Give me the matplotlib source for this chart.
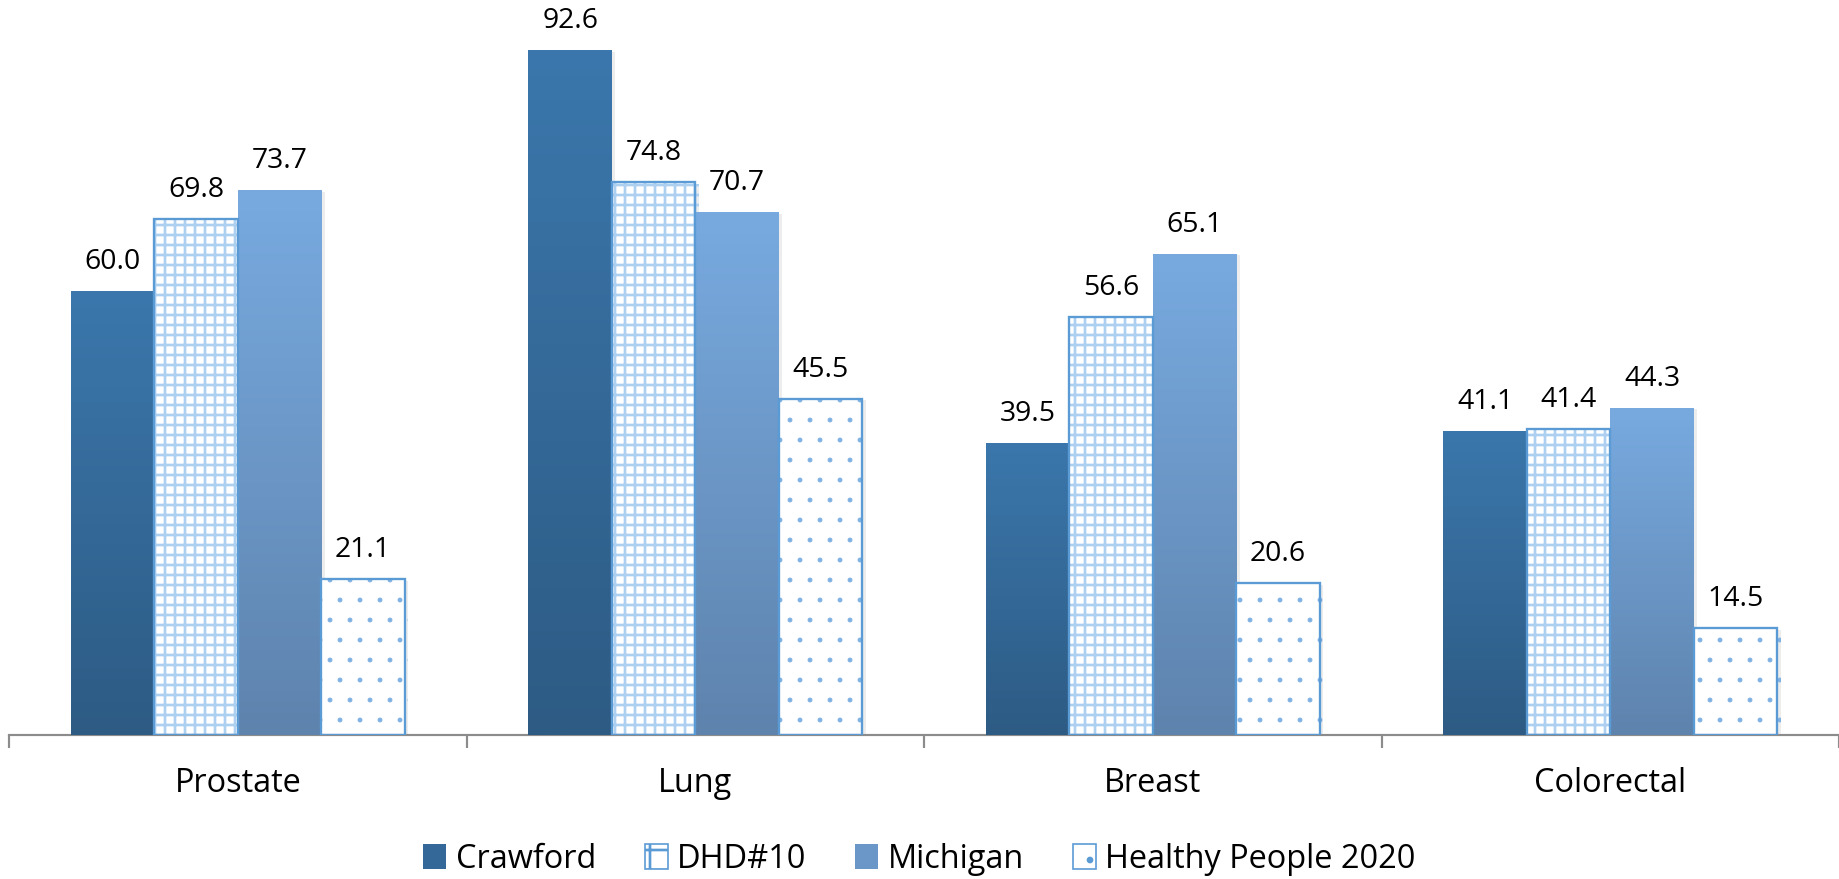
import numpy as np
import matplotlib
matplotlib.use("Agg")
import matplotlib.pyplot as plt
import matplotlib.patheffects as pe
from matplotlib.colors import LinearSegmentedColormap
from matplotlib.patches import Patch

plt.rcParams["font.family"] = ["Open Sans", "DejaVu Sans"]
plt.rcParams["hatch.linewidth"] = 1.6

categories = ["Prostate", "Lung", "Breast", "Colorectal"]
series = ["Crawford", "DHD#10", "Michigan", "Healthy People 2020"]
crawford = [60.0, 92.6, 39.5, 41.1]
dhd10 = [69.8, 74.8, 56.6, 41.4]
michigan = [73.7, 70.7, 65.1, 44.3]
healthy_people = [21.1, 45.5, 20.6, 14.5]

values = [crawford, dhd10, michigan, healthy_people]
EDGE = "#5b9bd5"
GRID = "#add0f0"
DOT = "#7fb2e3"
grad = {0: ("#2d5b84", "#3b77ac"), 2: ("#5e83ad", "#78aae0")}


def set_hlw(patch, lw):
    if hasattr(patch, "set_hatch_linewidth"):
        patch.set_hatch_linewidth(lw)


fig = plt.figure(figsize=(1839 / 120, 879 / 120), dpi=120)
ax = fig.add_axes([0.005, 0.1635, 0.995, 0.8365])

x = np.arange(len(categories))
w = 0.1825
offsets = [-1.5 * w, -0.5 * w, 0.5 * w, 1.5 * w]
shadow = [pe.SimplePatchShadow(offset=(2, -1), shadow_rgbFace="k", alpha=0.07), pe.Normal()]

for i, (vals, off) in enumerate(zip(values, offsets)):
    if i in grad:
        bars = ax.bar(x + off, vals, w, color=grad[i][1], linewidth=0, zorder=2)
        cmap = LinearSegmentedColormap.from_list("g%d" % i, list(grad[i]))
        for b in bars:
            b.set_path_effects(shadow)
            x0, h = b.get_x(), b.get_height()
            im = ax.imshow(np.linspace(0, 1, 256).reshape(-1, 1)[::-1], cmap=cmap,
                           extent=[x0, x0 + w, 0, h], aspect="auto", zorder=3)
            im.set_clip_path(b)
    else:
        hatch = "++" if i == 1 else "."
        hc = GRID if i == 1 else DOT
        with plt.rc_context({"hatch.linewidth": 1.6 if i == 1 else 0.5}):
            bars = ax.bar(x + off, vals, w, color="white", edgecolor=hc, hatch=hatch,
                          linewidth=0, zorder=2)
        for b in bars:
            b.set_path_effects(shadow)
            set_hlw(b, 1.6 if i == 1 else 0.5)
        ax.bar(x + off, vals, w, fill=False, edgecolor=EDGE, linewidth=1.4, zorder=4)
    for xi, v in zip(x + off, vals):
        ax.annotate(f"{v:.1f}", (xi, v), xytext=(0, 9), textcoords="offset points",
                    ha="center", va="bottom", fontsize=17, zorder=5)

ax.set_xlim(-0.5, len(categories) - 0.5)
ax.set_ylim(0, 99.4)
for s in ["top", "right", "left"]:
    ax.spines[s].set_visible(False)
ax.spines["bottom"].set_color("#8c8c8c")
ax.spines["bottom"].set_linewidth(1.3)
ax.set_yticks([])
ax.set_xticks(np.arange(len(categories) + 1) - 0.5)
ax.set_xticklabels([])
ax.tick_params(axis="x", which="major", length=7.5, width=1.3, color="#8c8c8c")
ax.set_xticks(x, minor=True)
ax.set_xticklabels(categories, minor=True, fontsize=19.5)
ax.tick_params(axis="x", which="minor", length=0, pad=19)

handles = [
    Patch(facecolor="#336898", edgecolor="none"),
    Patch(facecolor="white", edgecolor=EDGE, hatch="+"),
    Patch(facecolor="#6b96c8", edgecolor="none"),
    Patch(facecolor="white", edgecolor=EDGE, hatch="."),
]
fig.legend(handles, series, loc="center", bbox_to_anchor=(0.5, 0.022), ncol=4,
           frameon=False, fontsize=19.5, handlelength=0.7, handleheight=0.8,
           handletextpad=0.3, columnspacing=1.5)

fig.savefig("out.png", dpi=120)
